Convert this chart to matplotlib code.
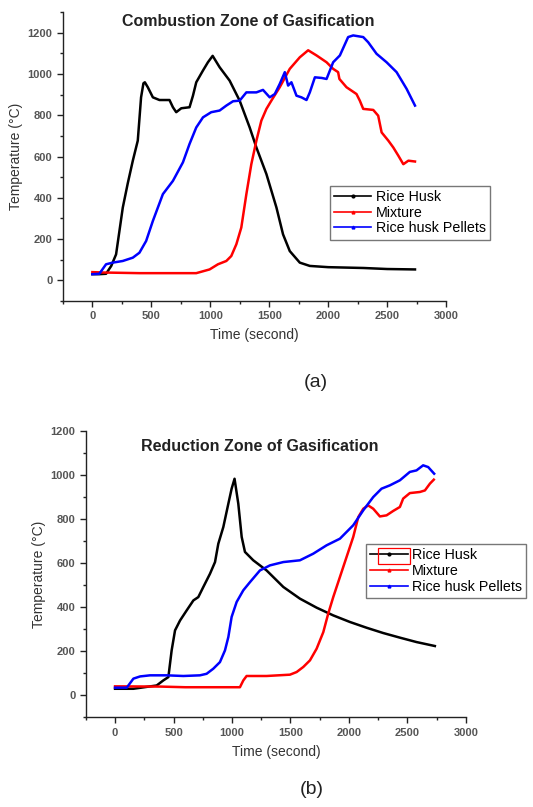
import numpy as np
import matplotlib
matplotlib.use("Agg")
import matplotlib.pyplot as plt
from matplotlib.ticker import MultipleLocator
from matplotlib.patches import Rectangle

plt.rcParams["font.family"] = ["Liberation Sans", "DejaVu Sans"]

# ---- (a) Combustion zone ----
comb_husk_t = [0, 60, 116, 160, 201, 258, 300, 343, 385, 413, 433, 445, 470, 513, 569, 654, 683, 711, 754,
               824, 853, 881, 938, 980, 1020, 1079, 1164, 1249, 1334, 1391, 1476, 1561, 1617, 1674, 1759,
               1844, 2000, 2300, 2500, 2736]
comb_husk_T = [30, 30, 32, 70, 126, 353, 470, 580, 677, 887, 955, 960, 936, 887, 874, 874, 839, 815, 834,
               839, 895, 960, 1017, 1057, 1088, 1033, 968, 871, 741, 644, 515, 353, 223, 142, 86,
               70, 64, 60, 55, 53]

comb_mix_t = [0, 100, 400, 881, 994, 1065, 1136, 1178, 1221, 1263, 1306, 1348, 1391, 1433, 1476, 1518, 1589,
              1674, 1759, 1830, 1901, 1986, 2042, 2084, 2095, 2155, 2240, 2268, 2297, 2382, 2424, 2453,
              2510, 2552, 2595, 2637, 2680, 2736]
comb_mix_T = [40, 38, 35, 35, 53, 78, 94, 118, 175, 256, 418, 563, 677, 774, 831, 871, 936,
              1025, 1081, 1115, 1090, 1057, 1025, 1009, 976, 936, 903, 871, 831, 826, 798, 717,
              677, 644, 604, 563, 580, 576]

comb_pel_t = [0, 59, 116, 173, 258, 343, 399, 456, 513, 598, 683, 768, 824, 881, 938, 1008, 1079, 1136,
              1193, 1249, 1306, 1391, 1447, 1504, 1547, 1589, 1632, 1660, 1688, 1731, 1773, 1816, 1844,
              1887, 1944, 1986, 2042, 2099, 2169, 2212, 2297, 2339, 2410, 2495, 2580, 2665, 2736]
comb_pel_T = [30, 32, 78, 86, 94, 110, 134, 191, 288, 418, 482, 572, 661, 741, 790, 815, 823, 847,
              868, 871, 911, 911, 923, 887, 903, 952, 1009, 944, 960, 895, 887, 874, 911,
              984, 981, 976, 1057, 1090, 1179, 1187, 1179, 1154, 1098, 1057, 1009, 928, 847]

# ---- (b) Reduction zone ----
red_husk_t = [0, 157, 356, 413, 456, 484, 513, 556, 613, 670, 712, 755, 812, 855, 883, 926, 969, 997, 1022,
              1054, 1083, 1111, 1182, 1296, 1439, 1581, 1724, 1866, 2009, 2151, 2293, 2436, 2578, 2735]
red_husk_T = [30, 30, 45, 68, 83, 204, 295, 340, 386, 431, 446, 492, 552, 605, 688, 764, 870, 938, 983,
              870, 719, 651, 613, 567, 492, 439, 398, 363, 333, 307, 283, 262, 242, 224]

red_mix_t = [0, 385, 600, 1068, 1097, 1125, 1296, 1496, 1553, 1610, 1667, 1724, 1781, 1823, 1866, 1923,
             1980, 2037, 2080, 2123, 2165, 2208, 2265, 2322, 2379, 2436, 2464, 2521, 2607, 2650, 2693, 2726]
red_mix_T = [41, 40, 37, 37, 68, 88, 88, 94, 106, 129, 159, 212, 287, 371, 446, 537,
             628, 719, 809, 847, 862, 847, 812, 817, 837, 855, 893, 918, 923, 930, 961, 979]

red_pel_t = [0, 100, 157, 214, 299, 442, 584, 726, 783, 840, 897, 940, 969, 997, 1040, 1097, 1154, 1239,
             1325, 1439, 1581, 1695, 1809, 1923, 2037, 2123, 2208, 2279, 2350, 2436, 2521, 2578, 2635,
             2678, 2729]
red_pel_T = [35, 35, 76, 86, 91, 91, 88, 91, 98, 121, 151, 204, 265, 356, 424, 477, 514, 567,
             590, 605, 613, 643, 681, 711, 772, 840, 900, 938, 953, 976, 1014, 1021, 1044,
             1036, 1006]

series_labels = ["Rice Husk", "Mixture", "Rice husk Pellets"]
series_colors = ["black", "red", "blue"]
series_markers = ["o", "^", "^"]

fig = plt.figure(figsize=(5.33, 8.07), dpi=100)
ax1 = fig.add_axes([0.118, 0.627, 0.719, 0.358])
ax2 = fig.add_axes([0.161, 0.111, 0.713, 0.355])

def style(ax, ylim):
    ax.set_xlim(-250, 3000)
    ax.set_ylim(*ylim)
    for s in ["top", "right"]:
        ax.spines[s].set_visible(False)
    for s in ["left", "bottom"]:
        ax.spines[s].set_linewidth(1.0)
        ax.spines[s].set_color("#222222")
    ax.xaxis.set_major_locator(MultipleLocator(500))
    ax.xaxis.set_minor_locator(MultipleLocator(250))
    ax.yaxis.set_major_locator(MultipleLocator(200))
    ax.yaxis.set_minor_locator(MultipleLocator(100))
    ax.tick_params(which="major", direction="out", length=4, width=1, labelsize=8,
                   labelcolor="#555555", color="#222222")
    ax.tick_params(which="minor", direction="out", length=2.5, width=1, color="#222222")
    for lab in ax.get_xticklabels() + ax.get_yticklabels():
        lab.set_fontweight("bold")
    ax.set_xlabel("Time (second)", fontsize=10, color="#333333", labelpad=5)
    ax.set_ylabel("Temperature (°C)", fontsize=10, color="#333333", labelpad=3)

data1 = [(comb_husk_t, comb_husk_T), (comb_mix_t, comb_mix_T), (comb_pel_t, comb_pel_T)]
data2 = [(red_husk_t, red_husk_T), (red_mix_t, red_mix_T), (red_pel_t, red_pel_T)]

for ax, data in [(ax1, data1), (ax2, data2)]:
    for (t, T), lab, col in zip(data, series_labels, series_colors):
        ax.plot(t, T, color=col, lw=1.8, label=lab)

style(ax1, (-100, 1300))
style(ax2, (-100, 1200))

ax1.text(0.483, 0.969, "Combustion Zone of Gasification", transform=ax1.transAxes,
         ha="center", va="center", fontsize=11.5, fontweight="bold", color="#222222")
ax2.text(0.458, 0.947, "Reduction Zone of Gasification", transform=ax2.transAxes,
         ha="center", va="center", fontsize=11.5, fontweight="bold", color="#222222")

leg_kw = dict(loc="upper left", fontsize=10.3, frameon=True, fancybox=False, handlelength=2.6,
              handletextpad=0.3, borderpad=0.3, labelspacing=0.12, borderaxespad=0)
l1 = ax1.legend(bbox_to_anchor=(0.619, 0.770), bbox_transform=fig.transFigure, **leg_kw)
l2 = ax2.legend(bbox_to_anchor=(0.687, 0.326), bbox_transform=fig.transFigure, **leg_kw)
for l in (l1, l2):
    l.get_frame().set_edgecolor("#555555")
    l.get_frame().set_linewidth(1.0)
    for line, mk in zip(l.get_lines(), series_markers):
        line.set_linewidth(1.2)
        line.set_marker(mk)
        line.set_markersize(2)

# red box around the first legend handle in (b), as in the source image
fig.patches.append(Rectangle((378 / 533, 1 - 564 / 807), 32 / 533, 16 / 807, fill=False,
                             edgecolor="red", lw=0.9, transform=fig.transFigure, figure=fig))

fig.text(316 / 533, 1 - 383 / 807, "(a)", ha="center", va="center", fontsize=14, color="#222222")
fig.text(312 / 533, 1 - 790 / 807, "(b)", ha="center", va="center", fontsize=14, color="#222222")

fig.savefig("out.png", dpi=100)
